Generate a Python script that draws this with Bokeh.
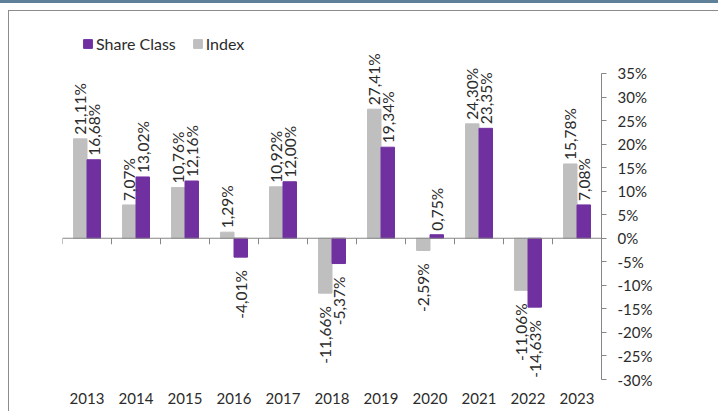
import numpy as np
from bokeh.plotting import figure
from bokeh.models import (ColumnDataSource, FixedTicker, Range1d, Span, Legend, LegendItem)
from bokeh.core.properties import value
from bokeh.embed import file_html
from bokeh.resources import INLINE

# ---- data ----
years = ["2013", "2014", "2015", "2016", "2017", "2018", "2019", "2020", "2021", "2022", "2023"]
share_class = [16.68, 13.02, 12.16, -4.01, 12.00, -5.37, 19.34, 0.75, 23.35, -14.63, 7.08]
index_vals = [21.11, 7.07, 10.76, 1.29, 10.92, -11.66, 27.41, -2.59, 24.30, -11.06, 15.78]
y_ticks = [-30, -25, -20, -15, -10, -5, 0, 5, 10, 15, 20, 25, 30, 35]

PURPLE = "#7030a0"
GREY = "#bfbfbf"
AXIS = "#868686"
TEXT = "#2b2b2b"
FONT = "Lato"

W, H = 718, 411
ML, MR, MT, MB = 62, 117, 20, 32
Y0, Y1 = -30, 46.25
px_per_unit = (H - MT - MB) / (Y1 - Y0)

BW = 0.275
xc = np.arange(len(years))

p = figure(width=W, height=H, output_backend="svg", toolbar_location=None,
           x_range=Range1d(-0.5, len(years) - 0.5), y_range=Range1d(Y0, Y1),
           y_axis_location="right",
           min_border_left=ML, min_border_right=MR, min_border_top=MT, min_border_bottom=MB)
p.border_fill_color = None
p.background_fill_color = "white"
p.outline_line_color = None
p.grid.visible = False
p.styles = {
    "background": ("linear-gradient(#5e8199,#5e8199) 0 0/100% 3px no-repeat,"
                   "linear-gradient(#8c8c8c,#8c8c8c) 8px 10px/100% 1px no-repeat,"
                   "linear-gradient(#8c8c8c,#8c8c8c) 8px 10px/1px 100% no-repeat,"
                   "white")
}

src = ColumnDataSource(dict(
    xg=xc - BW / 2, xp=xc + BW / 2,
    share=share_class, index=index_vals,
))
rg = p.vbar(x="xg", top="index", bottom=0, width=BW, source=src,
            fill_color=GREY, line_color=GREY)
rp = p.vbar(x="xp", top="share", bottom=0, width=BW, source=src,
            fill_color=PURPLE, line_color=PURPLE)

# zero line and category ticks
p.add_layout(Span(location=0, dimension="width", line_color=AXIS, line_width=1))
bounds = np.arange(len(years) + 1) - 0.5
p.segment(x0=bounds, y0=0, x1=bounds, y1=-6 / px_per_unit, line_color=AXIS, line_width=1)

# data labels
def fmt(v):
    return f"{v:.2f}".replace(".", ",") + "%"

pos = dict(x=[], y=[], t=[])
neg = dict(x=[], y=[], t=[])
for i in range(len(years)):
    for xv, v in ((xc[i] - BW / 2, index_vals[i]), (xc[i] + BW / 2, share_class[i])):
        if v >= 0:
            pos["x"].append(xv); pos["y"].append(v + 4 / px_per_unit); pos["t"].append(fmt(v))
        else:
            neg["x"].append(xv); neg["y"].append(v - 13 / px_per_unit); neg["t"].append(fmt(v))

p.text(x="x", y="y", text="t", source=ColumnDataSource(pos), angle=np.pi / 2,
       text_align="left", text_baseline="middle", text_font=value(FONT),
       text_font_size="15.5px", text_color=TEXT)
p.text(x="x", y="y", text="t", source=ColumnDataSource(neg), angle=np.pi / 2,
       text_align="right", text_baseline="middle", text_font=value(FONT),
       text_font_size="15.5px", text_color=TEXT)

# x axis (labels only, at bottom)
xa = p.xaxis[0]
xa.ticker = FixedTicker(ticks=list(range(len(years))))
xa.major_label_overrides = {i: y for i, y in enumerate(years)}
xa.axis_line_color = None
xa.major_tick_line_color = None
xa.minor_tick_line_color = None
xa.major_tick_in = 0
xa.major_tick_out = 0
xa.major_label_standoff = 13
xa.major_label_text_font = FONT
xa.major_label_text_font_size = "15px"
xa.major_label_text_color = TEXT

# y axis on the right
ya = p.yaxis[0]
ya.ticker = FixedTicker(ticks=y_ticks)
ya.major_label_overrides = {t: f"{t}%" for t in y_ticks}
ya.bounds = (-30, 35)
ya.axis_line_color = AXIS
ya.major_tick_line_color = AXIS
ya.minor_tick_line_color = None
ya.major_tick_in = 0
ya.major_tick_out = 5
ya.major_label_standoff = 11
ya.major_label_text_font = FONT
ya.major_label_text_font_size = "15px"
ya.major_label_text_color = TEXT

legend = Legend(items=[LegendItem(label="Share Class", renderers=[rp]),
                       LegendItem(label="Index", renderers=[rg])],
                orientation="horizontal", location=(20, 326),
                glyph_width=11, glyph_height=11, label_standoff=3, spacing=16,
                padding=0, margin=0, border_line_color=None, background_fill_alpha=0,
                label_text_font=FONT, label_text_font_size="16px", label_text_color=TEXT,
                label_height=12)
p.add_layout(legend)

open("out.html", "w").write(file_html(p, INLINE))
